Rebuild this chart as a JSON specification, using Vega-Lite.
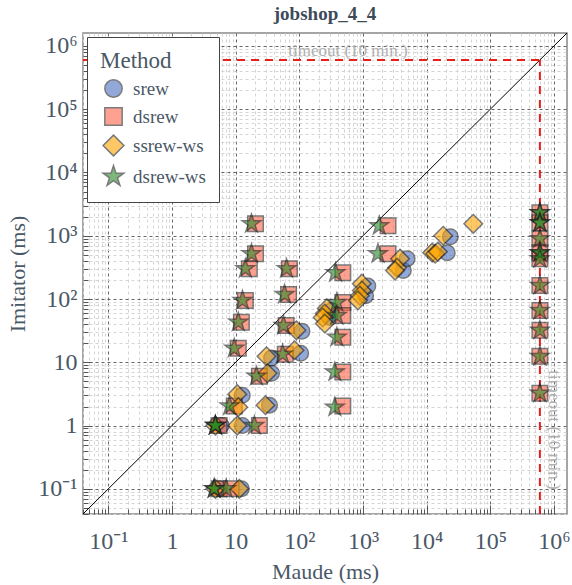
{
  "$schema": "https://vega.github.io/schema/vega-lite/v6.json",
  "width": 484,
  "height": 481,
  "autosize": {"type": "none"},
  "padding": {"left": 83, "top": 33, "right": 5, "bottom": 71},
  "title": {"text": "jobshop_4_4", "font": "Liberation Serif", "fontSize": 19, "fontWeight": "bold", "color": "#3d4b59", "offset": 9},
  "config": {
    "view": {"stroke": "#888", "strokeWidth": 1.5},
    "font": "Liberation Serif",
    "legend": {
      "orient": "top-left", "offset": 4, "padding": 13,
      "strokeColor": "#444", "fillColor": "white",
      "titleFont": "Liberation Serif", "titleFontSize": 23, "titleFontWeight": "normal", "titleColor": "#4a5866",
      "labelFont": "Liberation Serif", "labelFontSize": 19, "labelColor": "#4a5866",
      "symbolSize": 300, "symbolStrokeWidth": 1.5, "symbolOpacity": 0.6, "rowPadding": 3, "titlePadding": 6,
      "symbolOffset": 4, "labelOffset": 10
    }
  },
  "datasets": {
    "runs": [
      {"method": "srew", "maude": 5.95, "imitator": 1.0},
      {"method": "srew", "maude": 5.5, "imitator": 0.1},
      {"method": "srew", "maude": 12.3, "imitator": 0.1},
      {"method": "srew", "maude": 12.7, "imitator": 1.0},
      {"method": "srew", "maude": 12.7, "imitator": 3.0},
      {"method": "srew", "maude": 34, "imitator": 2.1},
      {"method": "srew", "maude": 36.6, "imitator": 6.7},
      {"method": "srew", "maude": 36.6, "imitator": 11.7},
      {"method": "srew", "maude": 105, "imitator": 13.9},
      {"method": "srew", "maude": 110, "imitator": 31},
      {"method": "srew", "maude": 301, "imitator": 51},
      {"method": "srew", "maude": 320, "imitator": 66},
      {"method": "srew", "maude": 1100, "imitator": 113},
      {"method": "srew", "maude": 1190, "imitator": 160},
      {"method": "srew", "maude": 4300, "imitator": 281},
      {"method": "srew", "maude": 4930, "imitator": 434},
      {"method": "srew", "maude": 21000, "imitator": 540},
      {"method": "srew", "maude": 23500, "imitator": 964},
      {"method": "dsrew", "maude": 20.5, "imitator": 1545},
      {"method": "dsrew", "maude": 20.5, "imitator": 521},
      {"method": "dsrew", "maude": 16.4, "imitator": 302},
      {"method": "dsrew", "maude": 14.2, "imitator": 95},
      {"method": "dsrew", "maude": 12.3, "imitator": 43},
      {"method": "dsrew", "maude": 11.0, "imitator": 16.6},
      {"method": "dsrew", "maude": 70, "imitator": 302},
      {"method": "dsrew", "maude": 67.8, "imitator": 118},
      {"method": "dsrew", "maude": 62, "imitator": 38},
      {"method": "dsrew", "maude": 60, "imitator": 13.4},
      {"method": "dsrew", "maude": 23.6, "imitator": 6.0},
      {"method": "dsrew", "maude": 9.5, "imitator": 2.03},
      {"method": "dsrew", "maude": 5.5, "imitator": 1.0},
      {"method": "dsrew", "maude": 23.6, "imitator": 1.0},
      {"method": "dsrew", "maude": 5.5, "imitator": 0.1},
      {"method": "dsrew", "maude": 8.5, "imitator": 0.1},
      {"method": "dsrew", "maude": 2472, "imitator": 1437},
      {"method": "dsrew", "maude": 2472, "imitator": 521},
      {"method": "dsrew", "maude": 482, "imitator": 261},
      {"method": "dsrew", "maude": 482, "imitator": 88},
      {"method": "dsrew", "maude": 482, "imitator": 55},
      {"method": "dsrew", "maude": 482, "imitator": 24.8},
      {"method": "dsrew", "maude": 482, "imitator": 7.0},
      {"method": "dsrew", "maude": 482, "imitator": 2.03},
      {"method": "dsrew", "maude": 600000, "imitator": 2300},
      {"method": "dsrew", "maude": 600000, "imitator": 1600},
      {"method": "dsrew", "maude": 600000, "imitator": 900},
      {"method": "dsrew", "maude": 600000, "imitator": 540},
      {"method": "dsrew", "maude": 600000, "imitator": 434},
      {"method": "dsrew", "maude": 600000, "imitator": 163},
      {"method": "dsrew", "maude": 600000, "imitator": 66},
      {"method": "dsrew", "maude": 600000, "imitator": 32},
      {"method": "dsrew", "maude": 600000, "imitator": 12.4},
      {"method": "dsrew", "maude": 600000, "imitator": 3.25},
      {"method": "ssrew-ws", "maude": 54000, "imitator": 1545},
      {"method": "ssrew-ws", "maude": 18200, "imitator": 1000},
      {"method": "ssrew-ws", "maude": 12200, "imitator": 540},
      {"method": "ssrew-ws", "maude": 13600, "imitator": 521},
      {"method": "ssrew-ws", "maude": 15000, "imitator": 560},
      {"method": "ssrew-ws", "maude": 3820, "imitator": 434},
      {"method": "ssrew-ws", "maude": 3430, "imitator": 313},
      {"method": "ssrew-ws", "maude": 3190, "imitator": 281},
      {"method": "ssrew-ws", "maude": 961, "imitator": 175},
      {"method": "ssrew-ws", "maude": 961, "imitator": 136},
      {"method": "ssrew-ws", "maude": 894, "imitator": 113},
      {"method": "ssrew-ws", "maude": 831, "imitator": 95},
      {"method": "ssrew-ws", "maude": 270, "imitator": 71},
      {"method": "ssrew-ws", "maude": 251, "imitator": 59},
      {"method": "ssrew-ws", "maude": 233, "imitator": 51},
      {"method": "ssrew-ws", "maude": 251, "imitator": 41},
      {"method": "ssrew-ws", "maude": 90, "imitator": 32},
      {"method": "ssrew-ws", "maude": 84, "imitator": 15.5},
      {"method": "ssrew-ws", "maude": 30.5, "imitator": 12.4},
      {"method": "ssrew-ws", "maude": 31.6, "imitator": 6.7},
      {"method": "ssrew-ws", "maude": 10.6, "imitator": 3.13},
      {"method": "ssrew-ws", "maude": 11, "imitator": 1.95},
      {"method": "ssrew-ws", "maude": 29.4, "imitator": 2.1},
      {"method": "ssrew-ws", "maude": 10.6, "imitator": 1.0},
      {"method": "ssrew-ws", "maude": 11.4, "imitator": 0.1},
      {"method": "ssrew-ws", "maude": 4.8, "imitator": 1.0},
      {"method": "ssrew-ws", "maude": 4.8, "imitator": 0.1},
      {"method": "dsrew-ws", "maude": 17.7, "imitator": 1545},
      {"method": "dsrew-ws", "maude": 17.7, "imitator": 521},
      {"method": "dsrew-ws", "maude": 14.2, "imitator": 302},
      {"method": "dsrew-ws", "maude": 12.8, "imitator": 95},
      {"method": "dsrew-ws", "maude": 11.0, "imitator": 43},
      {"method": "dsrew-ws", "maude": 9.5, "imitator": 16.6},
      {"method": "dsrew-ws", "maude": 63, "imitator": 302},
      {"method": "dsrew-ws", "maude": 58.6, "imitator": 118},
      {"method": "dsrew-ws", "maude": 56.5, "imitator": 38},
      {"method": "dsrew-ws", "maude": 54.6, "imitator": 13.4},
      {"method": "dsrew-ws", "maude": 21.2, "imitator": 6.0},
      {"method": "dsrew-ws", "maude": 8.0, "imitator": 2.03},
      {"method": "dsrew-ws", "maude": 4.8, "imitator": 1.0},
      {"method": "dsrew-ws", "maude": 4.8, "imitator": 1.0},
      {"method": "dsrew-ws", "maude": 4.8, "imitator": 1.0},
      {"method": "dsrew-ws", "maude": 19.7, "imitator": 1.0},
      {"method": "dsrew-ws", "maude": 4.6, "imitator": 0.1},
      {"method": "dsrew-ws", "maude": 4.6, "imitator": 0.1},
      {"method": "dsrew-ws", "maude": 7.1, "imitator": 0.1},
      {"method": "dsrew-ws", "maude": 1800, "imitator": 1437},
      {"method": "dsrew-ws", "maude": 1718, "imitator": 521},
      {"method": "dsrew-ws", "maude": 370, "imitator": 261},
      {"method": "dsrew-ws", "maude": 388, "imitator": 88},
      {"method": "dsrew-ws", "maude": 388, "imitator": 55},
      {"method": "dsrew-ws", "maude": 388, "imitator": 24.8},
      {"method": "dsrew-ws", "maude": 361, "imitator": 7.0},
      {"method": "dsrew-ws", "maude": 361, "imitator": 1.95},
      {"method": "dsrew-ws", "maude": 600000, "imitator": 2300},
      {"method": "dsrew-ws", "maude": 600000, "imitator": 2300},
      {"method": "dsrew-ws", "maude": 600000, "imitator": 1600},
      {"method": "dsrew-ws", "maude": 600000, "imitator": 1600},
      {"method": "dsrew-ws", "maude": 600000, "imitator": 900},
      {"method": "dsrew-ws", "maude": 600000, "imitator": 540},
      {"method": "dsrew-ws", "maude": 600000, "imitator": 540},
      {"method": "dsrew-ws", "maude": 600000, "imitator": 434},
      {"method": "dsrew-ws", "maude": 600000, "imitator": 163},
      {"method": "dsrew-ws", "maude": 600000, "imitator": 66},
      {"method": "dsrew-ws", "maude": 600000, "imitator": 32},
      {"method": "dsrew-ws", "maude": 600000, "imitator": 12.4},
      {"method": "dsrew-ws", "maude": 600000, "imitator": 3.25}
    ]
  },
  "layer": [
    {
      "data": {"values": [{}]},
      "mark": {"type": "rule", "color": "black", "strokeWidth": 1},
      "encoding": {
        "x": {"datum": 0.04, "type": "quantitative", "scale": {"type": "log", "domain": [0.04, 1600000], "nice": false}},
        "y": {"datum": 0.04, "type": "quantitative", "scale": {"type": "log", "domain": [0.04, 1600000], "nice": false}},
        "x2": {"datum": 1600000},
        "y2": {"datum": 1600000}
      }
    },
    {
      "data": {"values": [{}]},
      "mark": {"type": "rule", "color": "#e8201c", "strokeWidth": 2, "strokeDash": [8, 6]},
      "encoding": {
        "x": {"datum": 0.04, "type": "quantitative"},
        "x2": {"datum": 600000},
        "y": {"datum": 600000, "type": "quantitative"}
      }
    },
    {
      "data": {"values": [{}]},
      "mark": {"type": "rule", "color": "#e8201c", "strokeWidth": 2, "strokeDash": [8, 6]},
      "encoding": {
        "x": {"datum": 600000, "type": "quantitative"},
        "y": {"datum": 0.04, "type": "quantitative"},
        "y2": {"datum": 600000}
      }
    },
    {
      "data": {"name": "runs"},
      "mark": {"type": "point", "filled": true, "size": 240, "opacity": 0.6, "stroke": "#222", "strokeWidth": 1.5},
      "encoding": {
        "x": {
          "field": "maude", "type": "quantitative",
          "scale": {"type": "log", "domain": [0.04, 1600000], "nice": false},
          "axis": {
            "title": "Maude (ms)", "titleFont": "Liberation Serif", "titleFontSize": 22, "titleFontWeight": "normal", "titleColor": "#4a5866", "titlePadding": 4,
            "labelFont": "Liberation Serif", "labelFontSize": 24, "labelColor": "#4a5866", "labelOverlap": false, "labelPadding": 24,
            "tickCount": 20, "domain": false, "tickColor": "#555",
            "tickSize": {"condition": {"test": "abs(log(datum.value)/LN10 - round(log(datum.value)/LN10)) < 0.001", "value": -9}, "value": -5},
            "grid": true,
            "gridColor": {"condition": {"test": "abs(log(datum.value)/LN10 - round(log(datum.value)/LN10)) < 0.001", "value": "#666"}, "value": "#d4d4d4"},
            "gridDash": [3, 3],
            "labelExpr": "abs(log(datum.value)/LN10 - round(log(datum.value)/LN10)) < 0.001 ? (round(log(datum.value)/LN10) == 0 ? '1' : round(log(datum.value)/LN10) == 1 ? '10' : round(log(datum.value)/LN10) == -1 ? '10⁻¹' : '10' + ['⁰','¹','²','³','⁴','⁵','⁶','⁷'][round(log(datum.value)/LN10)]) : ''"
          }
        },
        "y": {
          "field": "imitator", "type": "quantitative",
          "scale": {"type": "log", "domain": [0.04, 1600000], "nice": false},
          "axis": {
            "title": "Imitator (ms)", "titleFont": "Liberation Serif", "titleFontSize": 22, "titleFontWeight": "normal", "titleColor": "#4a5866", "titlePadding": 8,
            "labelFont": "Liberation Serif", "labelFontSize": 24, "labelColor": "#4a5866", "labelOverlap": false, "labelPadding": 15,
            "tickCount": 20, "domain": false, "tickColor": "#555",
            "tickSize": {"condition": {"test": "abs(log(datum.value)/LN10 - round(log(datum.value)/LN10)) < 0.001", "value": -9}, "value": -5},
            "grid": true,
            "gridColor": {"condition": {"test": "abs(log(datum.value)/LN10 - round(log(datum.value)/LN10)) < 0.001", "value": "#666"}, "value": "#d4d4d4"},
            "gridDash": [3, 3],
            "labelExpr": "abs(log(datum.value)/LN10 - round(log(datum.value)/LN10)) < 0.001 ? (round(log(datum.value)/LN10) == 0 ? '1' : round(log(datum.value)/LN10) == 1 ? '10' : round(log(datum.value)/LN10) == -1 ? '10⁻¹' : '10' + ['⁰','¹','²','³','⁴','⁵','⁶','⁷'][round(log(datum.value)/LN10)]) : ''"
          }
        },
        "color": {
          "field": "method", "type": "nominal", "title": "Method",
          "scale": {"domain": ["srew", "dsrew", "ssrew-ws", "dsrew-ws"], "range": ["#4a70c0", "#ff6347", "#ffa500", "#228b22"]}
        },
        "shape": {
          "field": "method", "type": "nominal", "title": "Method",
          "scale": {"domain": ["srew", "dsrew", "ssrew-ws", "dsrew-ws"], "range": ["circle", "square", "M0,-1.2L1.2,0L0,1.2L-1.2,0Z", "M0,-1.25L0.28,-0.386L1.189,-0.386L0.454,0.148L0.735,1.011L0,0.478L-0.735,1.011L-0.454,0.148L-1.189,-0.386L-0.28,-0.386Z"]}
        }
      }
    },
    {
      "data": {"values": [{}]},
      "mark": {"type": "text", "text": "timeout (10 min.)", "font": "Liberation Serif", "fontSize": 17, "color": "#b0b0b0", "align": "center", "baseline": "alphabetic", "dy": -4},
      "encoding": {
        "x": {"datum": 580, "type": "quantitative"},
        "y": {"datum": 600000, "type": "quantitative"}
      }
    },
    {
      "data": {"values": [{}]},
      "mark": {"type": "text", "text": "timeout (10 min.)", "font": "Liberation Serif", "fontSize": 17, "color": "#b0b0b0", "align": "center", "baseline": "middle", "angle": 90},
      "encoding": {
        "x": {"datum": 1000000, "type": "quantitative"},
        "y": {"datum": 0.85, "type": "quantitative"}
      }
    }
  ]
}
